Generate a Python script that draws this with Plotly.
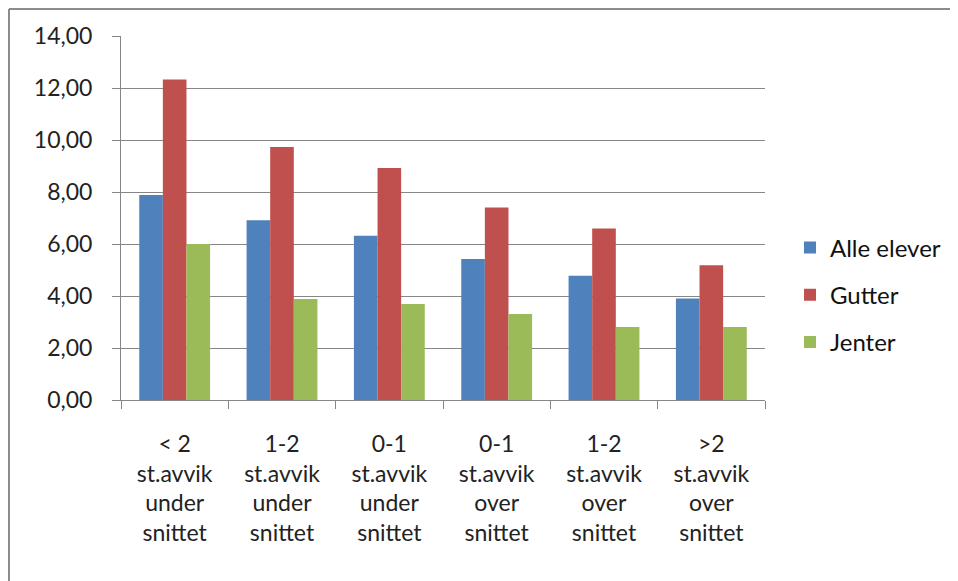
import plotly.graph_objects as go

categories = ["< 2<br>st.avvik<br>under<br>snittet", "1-2<br>st.avvik<br>under<br>snittet",
              "0-1<br>st.avvik<br>under<br>snittet", "0-1<br>st.avvik<br>over<br>snittet",
              "1-2<br>st.avvik<br>over<br>snittet", ">2<br>st.avvik<br>over<br>snittet"]
cat_ids = ["c1", "c2", "c3", "c4", "c5", "c6"]
alle_elever = [7.88, 6.91, 6.32, 5.42, 4.78, 3.90]
gutter = [12.33, 9.73, 8.92, 7.40, 6.60, 5.18]
jenter = [6.00, 3.88, 3.69, 3.31, 2.81, 2.81]

series = [("Alle elever", alle_elever, "#4F81BD"),
          ("Gutter", gutter, "#C0504D"),
          ("Jenter", jenter, "#9BBB59")]

FONT = "Lato"
OFF = 8  # page offset
W, H = 958 - OFF, 581 - OFF
PL, PR, PT, PB = 121, 765, 36, 400  # plot area in screen px
L, T = PL - OFF, PT - OFF
R = W - (PR - OFF)
B = H - (PB - OFF)
pw, ph = PR - PL, PB - PT

fig = go.Figure()
for i, (name, vals, col) in enumerate(series):
    fig.add_trace(go.Bar(x=cat_ids, y=vals, name=name, marker=dict(color=col, line=dict(width=0)),
                         legendgroup=f"g{i}"))

def px_x(px):
    return (px - PL) / pw

def px_y(py):
    return (PB - py) / ph

fig.update_layout(
    width=W, height=H,
    margin=dict(l=L, r=R, t=T, b=B, pad=0, autoexpand=False),
    paper_bgcolor="white", plot_bgcolor="white",
    barmode="group", bargap=0.34, bargroupgap=0,
    separators=", ",
    font=dict(family=FONT, size=20, color="#222222"),
    showlegend=True,
    legend=dict(x=px_x(790), y=px_y(295), xanchor="left", yanchor="middle",
                font=dict(family=FONT, size=24, color="#111111"),
                tracegroupgap=13, itemwidth=30, bgcolor="rgba(0,0,0,0)"),
    xaxis=dict(type="category", tickmode="array", tickvals=cat_ids, ticktext=categories,
               showline=True, linecolor="#868686", linewidth=1,
               ticks="outside", ticklen=8, tickcolor="#868686", tickson="boundaries",
               showgrid=False, tickfont=dict(family=FONT, size=23, color="#222222"),
               ticklabelstandoff=23, automargin=False),
    yaxis=dict(range=[0, 14], dtick=2, tickformat=".2f",
               showline=True, linecolor="#868686", linewidth=1,
               ticks="outside", ticklen=8, tickcolor="#868686",
               showgrid=True, gridcolor="#868686", gridwidth=1,
               zeroline=False, tickfont=dict(family=FONT, size=23, color="#222222"),
               ticklabelstandoff=15, automargin=False),
    shapes=[
        dict(type="line", xref="paper", yref="paper", x0=px_x(9), x1=px_x(970),
             y0=px_y(9), y1=px_y(9), line=dict(color="#8c8c8c", width=2)),
        dict(type="line", xref="paper", yref="paper", x0=px_x(9), x1=px_x(9),
             y0=px_y(9), y1=px_y(600), line=dict(color="#8c8c8c", width=2)),
    ],
)

fig.write_html("out.html")
